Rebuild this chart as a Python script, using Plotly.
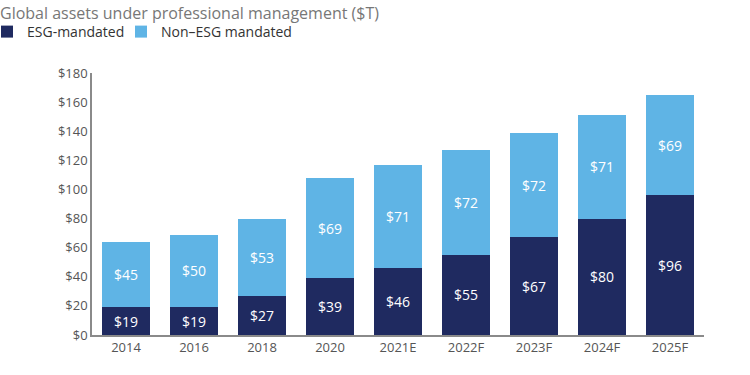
import plotly.graph_objects as go

years = ["2014", "2016", "2018", "2020", "2021E", "2022F", "2023F", "2024F", "2025F"]
esg = [19, 19, 27, 39, 46, 55, 67, 80, 96]
non_esg = [45, 50, 53, 69, 71, 72, 72, 71, 69]
y_ticks = [0, 20, 40, 60, 80, 100, 120, 140, 160, 180]

FONT = "Open Sans"
DARK = "#1f2a60"
LIGHT = "#5fb4e5"

L, R, T, B = 92, 46, 73, 40
W, H = 750, 375
PW, PH = W - L - R, H - T - B

def px_x(p):
    return (p - L) / PW

def px_y(p):
    return (H - B - p) / PH

fig = go.Figure()
fig.add_trace(go.Bar(
    x=years, y=esg, name="ESG-mandated", marker=dict(color=DARK, line=dict(width=0)),
    text=[f"${v}" for v in esg], textposition="inside", insidetextanchor="middle",
    textfont=dict(color="white", size=14, family=FONT), legend="legend",
))
fig.add_trace(go.Bar(
    x=years, y=non_esg, name="Non\u2013ESG mandated", marker=dict(color=LIGHT, line=dict(width=0)),
    text=[f"${v}" for v in non_esg], textposition="inside", insidetextanchor="middle",
    textfont=dict(color="white", size=14, family=FONT), legend="legend2",
))

legend_common = dict(orientation="h", xanchor="left", y=px_y(32), yanchor="middle",
                     font=dict(size=14, color="#333333"), itemclick=False,
                     bgcolor="rgba(0,0,0,0)")

fig.update_layout(
    width=W, height=H,
    barmode="stack", bargap=0.3,
    paper_bgcolor="white", plot_bgcolor="white",
    font=dict(family=FONT, color="#555555", size=13),
    margin=dict(l=L, r=R, t=T, b=B, autoexpand=False),
    uniformtext=dict(mode="show", minsize=14),
    showlegend=True,
    legend=dict(x=px_x(-13), **legend_common),
    legend2=dict(x=px_x(121), **legend_common),
    xaxis=dict(showline=True, linecolor="#8a8a8a", linewidth=1.5, ticks="",
               tickfont=dict(size=13, color="#555555"), range=[-0.5, 8.5]),
    yaxis=dict(range=[0, 180], tickvals=y_ticks, ticktext=[f"${v}" for v in y_ticks],
               showline=True, linecolor="#8a8a8a", linewidth=1.5, showgrid=False,
               zeroline=False, ticks="", tickfont=dict(size=13, color="#555555")),
    annotations=[dict(text="Global assets under professional management ($T)",
                      xref="paper", yref="paper", x=px_x(-2), xanchor="left",
                      y=px_y(0), yanchor="top", showarrow=False,
                      font=dict(size=16, color="#777777", family=FONT))],
)

fig.write_html("out.html", config={"displayModeBar": False},
               post_script="document.body.style.margin='0';")
